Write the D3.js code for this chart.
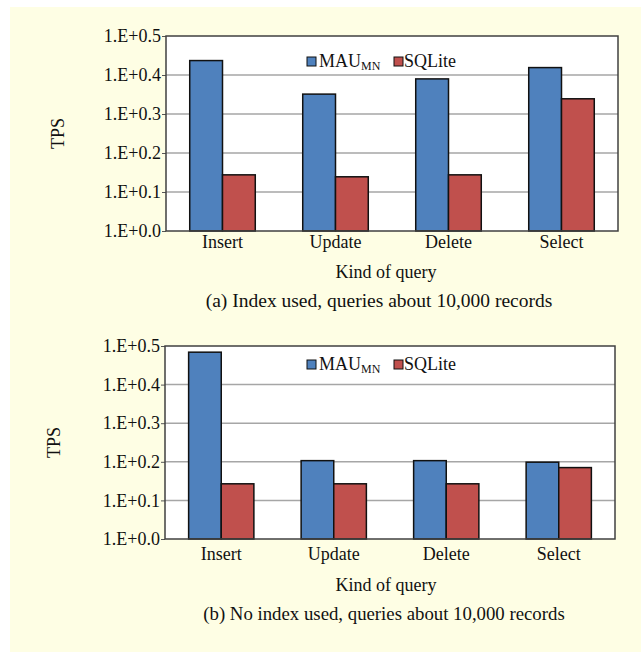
<!DOCTYPE html>
<html>
<head>
<meta charset="utf-8">
<script src="https://cdn.jsdelivr.net/npm/d3@7"></script>
<style>
  body { margin: 0; background: #fff; }
  svg text { font-family: "Liberation Serif", "Times New Roman", serif; fill: #111; }
</style>
</head>
<body>
<svg width="641" height="652"></svg>
<script>
var categories = ['Insert', 'Update', 'Delete', 'Select'];
var tickValues = [0, 1, 2, 3, 4, 5];
var tickLabels = ['1.E+0.0', '1.E+0.1', '1.E+0.2', '1.E+0.3', '1.E+0.4', '1.E+0.5'];

// panel (a): index used
var indexMAU = [4.37, 3.51, 3.90, 4.19];
var indexSQLite = [1.44, 1.39, 1.44, 3.39];
// panel (b): no index used
var noIndexMAU = [4.84, 2.03, 2.03, 1.99];
var noIndexSQLite = [1.43, 1.43, 1.43, 1.85];

var blue = '#4f81bd';
var red = '#c0504d';

var svg = d3.select('svg');

svg.append('rect')
  .attr('x', 10).attr('y', 7)
  .attr('width', 631).attr('height', 645)
  .attr('fill', '#fefee4');

function drawPanel(p) {
  var xScale = d3.scaleBand().domain(categories).range([p.left, p.right]);
  var yScale = d3.scaleLinear().domain([0, 5]).range([p.bottom, p.top]);
  var barW = xScale.bandwidth() * 0.29;

  svg.append('rect')
    .attr('x', p.left).attr('y', p.top)
    .attr('width', p.right - p.left).attr('height', p.bottom - p.top)
    .attr('fill', '#fff');

  // grid lines
  svg.append('g').selectAll('line')
    .data(tickValues.slice(1, 5))
    .enter().append('line')
    .attr('x1', p.left).attr('x2', p.right)
    .attr('y1', function(d) { return yScale(d); })
    .attr('y2', function(d) { return yScale(d); })
    .attr('stroke', '#a6a6a6').attr('stroke-width', 1.5);

  var yAxis = svg.append('g')
    .attr('transform', 'translate(' + p.left + ',0)')
    .call(d3.axisLeft(yScale).tickValues(tickValues)
      .tickFormat(function(d, i) { return tickLabels[i]; })
      .tickSize(4).tickSizeOuter(0).tickPadding(1));
  yAxis.select('.domain').remove();
  yAxis.selectAll('line').attr('stroke', '#555');
  yAxis.selectAll('text').attr('font-size', '18px').attr('font-family', '"Liberation Serif", serif').attr('fill', '#111');

  var xAxis = svg.append('g')
    .attr('transform', 'translate(0,' + p.bottom + ')')
    .call(d3.axisBottom(xScale).tickSize(0).tickPadding(p.labelPad));
  xAxis.select('.domain').remove();
  xAxis.selectAll('text').attr('font-size', '18px').attr('font-family', '"Liberation Serif", serif').attr('fill', '#111');

  var series = [{ vals: p.mau, color: blue, off: 0 }, { vals: p.sql, color: red, off: 1 }];
  series.forEach(function(s) {
    svg.append('g').selectAll('rect')
      .data(categories)
      .enter().append('rect')
      .attr('x', function(d) { return xScale(d) + xScale.bandwidth() / 2 - barW + s.off * barW; })
      .attr('width', barW)
      .attr('y', function(d, i) { return yScale(s.vals[i]); })
      .attr('height', function(d, i) { return p.bottom - yScale(s.vals[i]); })
      .attr('fill', s.color)
      .attr('stroke', '#111').attr('stroke-width', 1.5);
  });

  // plot frame
  svg.append('rect')
    .attr('x', p.left).attr('y', p.top)
    .attr('width', p.right - p.left).attr('height', p.bottom - p.top)
    .attr('fill', 'none').attr('stroke', '#404040').attr('stroke-width', 1.5);

  // legend
  var lg = svg.append('g').attr('transform', 'translate(307,' + (p.top + p.legendOff) + ')');
  lg.append('rect').attr('x', 0).attr('y', 0).attr('width', 9).attr('height', 9)
    .attr('fill', blue).attr('stroke', '#111').attr('stroke-width', 1);
  var t1 = lg.append('text').attr('x', 12).attr('y', 10).attr('font-size', '18px');
  t1.append('tspan').text('MAU');
  t1.append('tspan').attr('font-size', '12px').attr('dy', 3).text('MN');
  lg.append('rect').attr('x', 87).attr('y', 0).attr('width', 9).attr('height', 9)
    .attr('fill', red).attr('stroke', '#111').attr('stroke-width', 1);
  lg.append('text').attr('x', 97).attr('y', 10).attr('font-size', '18px').text('SQLite');

  svg.append('text')
    .attr('text-anchor', 'middle').attr('font-size', '18px')
    .attr('transform', 'translate(' + p.tpsX + ',' + ((p.top + p.bottom) / 2) + ')rotate(-90)')
    .text('TPS');

  svg.append('text')
    .attr('text-anchor', 'middle').attr('font-size', '18px')
    .attr('x', 386).attr('y', p.bottom + p.kindOff)
    .text('Kind of query');

  svg.append('text')
    .attr('text-anchor', 'middle').attr('font-size', p.captionSize)
    .attr('x', p.captionX).attr('y', p.bottom + p.captionOff)
    .text(p.caption);
}

drawPanel({ left: 166, right: 618, top: 36, bottom: 231, mau: indexMAU, sql: indexSQLite,
  legendOff: 21, tpsX: 64, labelPad: 4, kindOff: 47, captionOff: 76, captionX: 379, captionSize: '19.5px',
  caption: '(a) Index used, queries about 10,000 records' });
drawPanel({ left: 165, right: 615, top: 346, bottom: 539, mau: noIndexMAU, sql: noIndexSQLite,
  legendOff: 14, tpsX: 60, labelPad: 8, kindOff: 52, captionOff: 81, captionX: 384, captionSize: '18.8px',
  caption: '(b) No index used, queries about 10,000 records' });
</script>
</body>
</html>
